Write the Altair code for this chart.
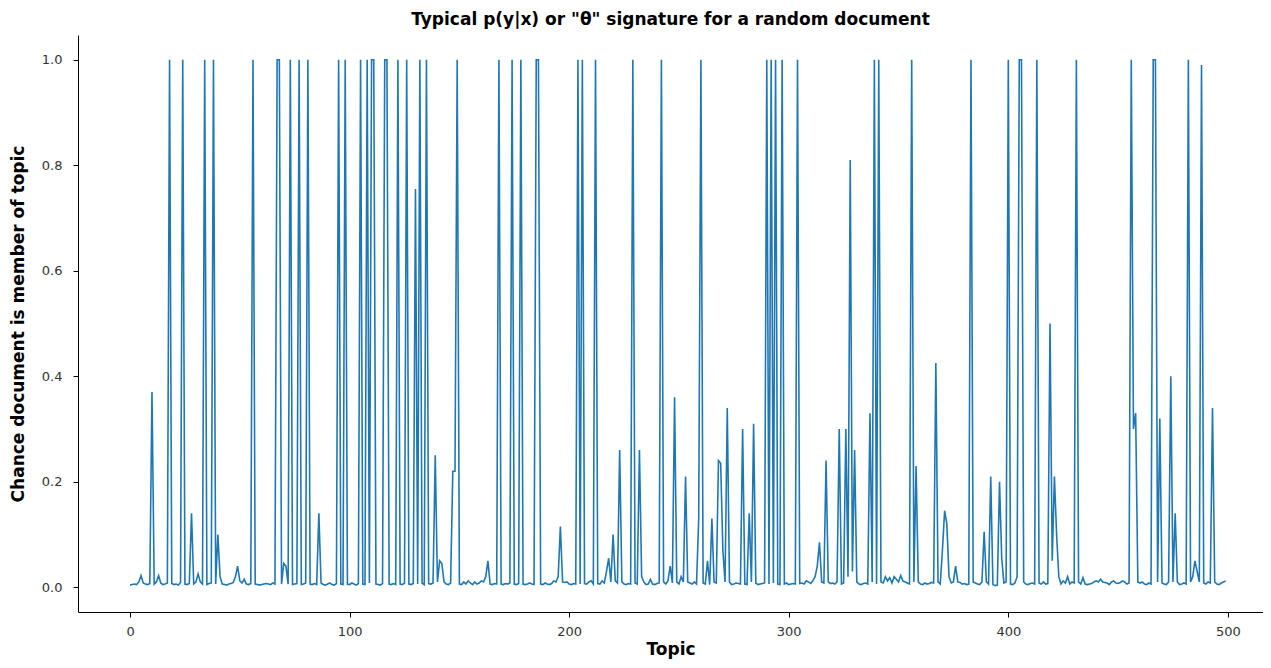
import altair as alt
import pandas as pd

TITLE = 'Typical p(y|x) or "θ" signature for a random document'
X_LABEL = "Topic"
Y_LABEL = "Chance document is member of topic"
X_TICKS = [0, 100, 200, 300, 400, 500]
Y_TICKS = [0.0, 0.2, 0.4, 0.6, 0.8, 1.0]

# p(topic | document) for topics 0..499 (rows of 10)
theta = [
    0.004, 0.005, 0.006, 0.005, 0.01, 0.022, 0.008, 0.006, 0.005, 0.007,
    0.37, 0.006, 0.01, 0.022, 0.008, 0.005, 0.006, 0.008, 1.0, 0.007,
    0.005, 0.006, 0.004, 0.009, 1.0, 0.006, 0.005, 0.007, 0.14, 0.006,
    0.01, 0.025, 0.01, 0.006, 1.0, 0.005, 0.007, 0.008, 1.0, 0.006,
    0.10, 0.02, 0.006, 0.005, 0.004, 0.006, 0.007, 0.009, 0.02, 0.04,
    0.012, 0.008, 0.015, 0.006, 0.005, 0.007, 1.0, 0.006, 0.005, 0.004,
    0.005, 0.006, 0.007, 0.006, 0.005, 0.008, 0.006, 1.0, 1.0, 0.006,
    0.045, 0.04, 0.006, 1.0, 0.005, 0.006, 0.007, 1.0, 0.005, 0.006,
    0.008, 1.0, 0.006, 0.005, 0.007, 0.005, 0.14, 0.008, 0.005, 0.004,
    0.006, 0.008, 0.005, 0.004, 0.007, 1.0, 0.006, 0.005, 1.0, 0.006,
    0.005, 0.008, 0.006, 0.004, 0.007, 1.0, 0.006, 0.005, 1.0, 0.008,
    1.0, 1.0, 0.006, 0.005, 0.004, 0.007, 1.0, 1.0, 0.006, 0.005,
    0.007, 0.005, 1.0, 0.006, 0.005, 0.008, 1.0, 0.006, 0.005, 0.007,
    0.755, 0.006, 1.0, 0.008, 0.005, 1.0, 0.007, 0.006, 0.008, 0.25,
    0.01, 0.05, 0.045, 0.01, 0.006, 0.005, 0.008, 0.22, 0.22, 1.0,
    0.006, 0.005, 0.01, 0.006, 0.012, 0.008, 0.005, 0.01, 0.006, 0.008,
    0.012, 0.01, 0.02, 0.05, 0.006, 0.005, 0.007, 0.006, 1.0, 0.006,
    0.005, 0.007, 0.006, 0.008, 1.0, 0.006, 0.005, 0.007, 1.0, 0.006,
    0.005, 0.006, 0.008, 0.006, 0.005, 1.0, 1.0, 0.006, 0.005, 0.008,
    0.006, 0.005, 0.007, 0.012, 0.01, 0.02, 0.115, 0.01, 0.009, 0.01,
    0.006, 0.005, 0.007, 0.006, 1.0, 0.006, 1.0, 0.007, 0.006, 0.01,
    0.012, 0.006, 1.0, 0.007, 0.006, 0.012, 0.008, 0.03, 0.055, 0.01,
    0.10, 0.012, 0.008, 0.26, 0.01, 0.006, 0.005, 0.007, 0.006, 1.0,
    0.008, 0.006, 0.26, 0.02, 0.01, 0.005, 0.006, 0.015, 0.006, 0.005,
    0.007, 0.008, 1.0, 0.01, 0.006, 0.012, 0.04, 0.008, 0.36, 0.01,
    0.006, 0.02, 0.01, 0.21, 0.01, 0.008, 0.006, 0.01, 0.006, 0.13,
    1.0, 0.008, 0.006, 0.05, 0.005, 0.13, 0.01, 0.008, 0.24, 0.235,
    0.07, 0.01, 0.34, 0.01, 0.005, 0.006, 0.008, 0.007, 0.006, 0.30,
    0.006, 0.005, 0.14, 0.01, 0.31, 0.008, 0.005, 0.006, 0.007, 0.008,
    1.0, 0.006, 1.0, 0.008, 1.0, 0.006, 0.005, 1.0, 0.006, 0.008,
    0.005, 0.006, 0.007, 0.006, 1.0, 0.007, 0.008, 0.006, 0.012, 0.01,
    0.007, 0.012, 0.02, 0.04, 0.085, 0.01, 0.008, 0.24, 0.01, 0.007,
    0.008, 0.006, 0.01, 0.30, 0.006, 0.008, 0.30, 0.02, 0.81, 0.03,
    0.26, 0.01, 0.006, 0.005, 0.007, 0.008, 0.006, 0.33, 0.01, 1.0,
    0.006, 1.0, 0.01, 0.008, 0.02, 0.012, 0.018, 0.008, 0.02, 0.015,
    0.01, 0.022, 0.012, 0.01, 0.008, 0.006, 1.0, 0.01, 0.23, 0.01,
    0.006, 0.005, 0.008, 0.006, 0.007, 0.009, 0.008, 0.425, 0.01, 0.006,
    0.07, 0.145, 0.12, 0.02, 0.008, 0.01, 0.04, 0.01, 0.009, 0.006,
    0.007, 0.005, 0.006, 1.0, 0.01, 0.008, 0.006, 0.005, 0.01, 0.105,
    0.01, 0.006, 0.21, 0.005, 0.003, 0.004, 0.2, 0.055, 0.008, 0.01,
    1.0, 0.006, 0.005, 0.008, 0.02, 1.0, 1.0, 0.01, 0.006, 0.005,
    0.007, 0.008, 0.006, 1.0, 0.008, 0.006, 0.01, 0.006, 0.007, 0.50,
    0.05, 0.21, 0.1, 0.02, 0.006, 0.012, 0.008, 0.02, 0.006, 0.01,
    0.008, 1.0, 0.01, 0.006, 0.018, 0.006, 0.005, 0.006, 0.007, 0.01,
    0.012, 0.01, 0.015, 0.01, 0.009, 0.008, 0.005, 0.01, 0.012, 0.008,
    0.007, 0.009, 0.012, 0.01, 0.006, 0.008, 1.0, 0.30, 0.33, 0.01,
    0.008, 0.01, 0.006, 0.005, 0.008, 0.006, 1.0, 1.0, 0.01, 0.32,
    0.008, 0.006, 0.005, 0.01, 0.40, 0.01, 0.14, 0.01, 0.005, 0.006,
    0.008, 0.006, 1.0, 0.01, 0.02, 0.05, 0.03, 0.01, 0.99, 0.008,
    0.006, 0.01, 0.008, 0.34, 0.01, 0.006, 0.005, 0.008, 0.01, 0.012,
]
topics = list(range(len(theta)))

df = pd.DataFrame({"topic": topics, "theta": theta})

FONT = "DejaVu Sans"

chart = (
    alt.Chart(df)
    .mark_line(color="#1f77b4", strokeWidth=1.6, clip=True)
    .encode(
        x=alt.X(
            "topic:Q",
            title=X_LABEL,
            scale=alt.Scale(domain=[-23.7, 516], nice=False, zero=False),
            axis=alt.Axis(values=X_TICKS, format="d", grid=False),
        ),
        y=alt.Y(
            "theta:Q",
            title=Y_LABEL,
            scale=alt.Scale(domain=[-0.047, 1.047], nice=False, zero=False),
            axis=alt.Axis(values=Y_TICKS, format=".1f", grid=False),
        ),
    )
    .properties(
        width=1185,
        height=577,
        title=alt.TitleParams(
            TITLE, font=FONT, fontSize=17, fontWeight="bold", color="#000",
            anchor="middle", offset=6,
        ),
        autosize=alt.AutoSizeParams(type="none"),
        padding={"left": 70, "top": 27, "right": 0, "bottom": 47},
    )
    .configure_view(stroke=None)
    .configure_axis(
        domainColor="#000",
        domainWidth=1,
        tickColor="#000",
        tickSize=5,
        tickWidth=1,
        labelPadding=8,
        labelFont=FONT,
        labelFontSize=13,
        labelColor="#333",
        titleFont=FONT,
        titleFontSize=17,
        titleFontWeight="bold",
        titleColor="#000",
    )
    .configure_axisY(titlePadding=14, labelPadding=11)
    .configure_axisX(titlePadding=3)
)

chart.save("out.html", embed_options={"renderer": "svg", "actions": False})
